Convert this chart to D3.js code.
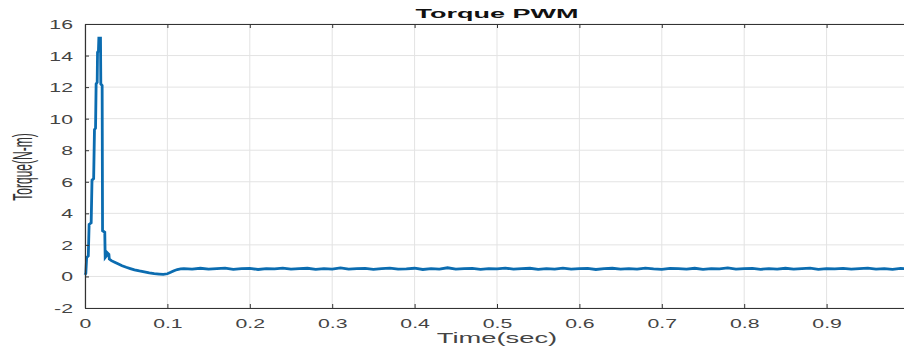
<!DOCTYPE html>
<html>
<head>
<meta charset="utf-8">
<script src="https://cdn.jsdelivr.net/npm/d3@7"></script>
<style>
  html, body { margin: 0; padding: 0; background: #fff; }
  svg { display: block; }
  text { font-family: "Liberation Sans", Arial, Helvetica, sans-serif; }
</style>
</head>
<body>
<svg id="chart" width="904" height="350"></svg>
<script>
// ---- Data ----
const chartTitle = "Torque PWM";
const xLabel = "Time(sec)";
const yLabel = "Torque(N-m)";
const xTickValues = [0, 0.1, 0.2, 0.3, 0.4, 0.5, 0.6, 0.7, 0.8, 0.9];
const yTickValues = [-2, 0, 2, 4, 6, 8, 10, 12, 14, 16];

// start-up transient (step-like rise, spike and decay)
const startTime = [0, 0.001, 0.002, 0.004, 0.005, 0.0075, 0.0085, 0.0105, 0.0115, 0.0128,
  0.0135, 0.0148, 0.0152, 0.0163, 0.0168, 0.0188, 0.0192, 0.0208, 0.0213, 0.0240,
  0.0245, 0.026, 0.027, 0.029, 0.0295, 0.032, 0.036, 0.04, 0.045, 0.05,
  0.055, 0.06, 0.066, 0.072, 0.078, 0.084, 0.09, 0.095, 0.1, 0.104,
  0.108, 0.112, 0.116];
const startTorque = [0.1, 0.2, 1.2, 1.3, 3.3, 3.4, 6.1, 6.2, 9.3, 9.4,
  12.2, 12.3, 14.2, 14.3, 15.1, 15.1, 12.2, 12.1, 2.9, 2.8,
  1.2, 1.3, 1.5, 1.4, 1.1, 1.0, 0.9, 0.8, 0.68, 0.58,
  0.5, 0.42, 0.35, 0.29, 0.23, 0.18, 0.15, 0.13, 0.17, 0.26,
  0.36, 0.44, 0.48];

// steady state (ripple around ~0.5 N-m)
const steadyTime = [0.12, 0.13, 0.14, 0.15, 0.16, 0.17, 0.18, 0.19, 0.20, 0.21,
  0.22, 0.23, 0.24, 0.25, 0.26, 0.27, 0.28, 0.29, 0.30, 0.31,
  0.32, 0.33, 0.34, 0.35, 0.36, 0.37, 0.38, 0.39, 0.40, 0.41,
  0.42, 0.43, 0.44, 0.45, 0.46, 0.47, 0.48, 0.49, 0.50, 0.51,
  0.52, 0.53, 0.54, 0.55, 0.56, 0.57, 0.58, 0.59, 0.60, 0.61,
  0.62, 0.63, 0.64, 0.65, 0.66, 0.67, 0.68, 0.69, 0.70, 0.71,
  0.72, 0.73, 0.74, 0.75, 0.76, 0.77, 0.78, 0.79, 0.80, 0.81,
  0.82, 0.83, 0.84, 0.85, 0.86, 0.87, 0.88, 0.89, 0.90, 0.91,
  0.92, 0.93, 0.94, 0.95, 0.96, 0.97, 0.98, 0.99, 1.00];
const steadyTorque = [0.50, 0.47, 0.52, 0.46, 0.50, 0.53, 0.45, 0.49, 0.51, 0.44,
  0.50, 0.48, 0.53, 0.46, 0.49, 0.52, 0.45, 0.50, 0.47, 0.54,
  0.46, 0.49, 0.51, 0.45, 0.50, 0.53, 0.47, 0.48, 0.52, 0.44,
  0.50, 0.47, 0.55, 0.46, 0.49, 0.51, 0.45, 0.50, 0.48, 0.53,
  0.46, 0.50, 0.52, 0.45, 0.49, 0.47, 0.53, 0.46, 0.50, 0.51,
  0.44, 0.49, 0.52, 0.47, 0.50, 0.46, 0.53, 0.48, 0.45, 0.51,
  0.49, 0.47, 0.52, 0.45, 0.50, 0.48, 0.54, 0.46, 0.49, 0.51,
  0.45, 0.50, 0.47, 0.52, 0.46, 0.49, 0.53, 0.45, 0.50, 0.48,
  0.51, 0.46, 0.50, 0.53, 0.47, 0.49, 0.45, 0.51, 0.48];

// ---- Layout ----
const plotLeft = 85, plotRight = 909, plotTop = 24, plotBottom = 308;
const sx = 1.7; // horizontal stretch of the original picture's text

const svg = d3.select("#chart");
const x = d3.scaleLinear().domain([0, 1]).range([plotLeft, plotRight]);
const y = d3.scaleLinear().domain([-2, 16]).range([plotBottom, plotTop]);

// grid
const grid = svg.append("g");
grid.selectAll("line.vg").data(xTickValues.concat([1])).enter().append("line")
  .attr("x1", d => x(d)).attr("x2", d => x(d)).attr("y1", plotTop).attr("y2", plotBottom)
  .attr("stroke", "#e3e3e3").attr("stroke-width", 1);
grid.selectAll("line.hg").data(yTickValues).enter().append("line")
  .attr("x1", plotLeft).attr("x2", plotRight).attr("y1", d => y(d)).attr("y2", d => y(d))
  .attr("stroke", "#e3e3e3").attr("stroke-width", 1);

// data line
const pts = startTime.map((t, i) => [t, startTorque[i]])
  .concat(steadyTime.map((t, i) => [t, steadyTorque[i]]));
const line = d3.line().x(d => x(d[0])).y(d => y(d[1]));
svg.append("path").datum(pts)
  .attr("d", line)
  .attr("fill", "none")
  .attr("stroke", "#0b6cb0")
  .attr("stroke-width", 2.8)
  .attr("stroke-linejoin", "miter");

// axes
function styleAxis(g) {
  g.select(".domain").attr("stroke", "#333").attr("stroke-width", 1.2);
  g.selectAll(".tick line").attr("stroke", "#333");
}
const xAxis = svg.append("g").attr("transform", `translate(0,${plotBottom})`)
  .call(d3.axisBottom(x).tickValues(xTickValues).tickSize(-4).tickSizeOuter(0).tickPadding(0)
    .tickFormat(d => d === 0 ? "0" : d3.format(".1f")(d)));
styleAxis(xAxis);
xAxis.selectAll(".tick text")
  .attr("font-size", "12.5px").attr("fill", "#444")
  .attr("y", 20).attr("dy", 0)
  .attr("transform", `scale(${sx},1)`);

const xAxisTop = svg.append("g").attr("transform", `translate(0,${plotTop})`)
  .call(d3.axisTop(x).tickValues(xTickValues).tickSize(-4).tickSizeOuter(0).tickFormat(""));
styleAxis(xAxisTop);

const yAxis = svg.append("g").attr("transform", `translate(${plotLeft},0)`)
  .call(d3.axisLeft(y).tickValues(yTickValues).tickSize(-4).tickSizeOuter(0).tickPadding(0)
    .tickFormat(d => String(d)));
styleAxis(yAxis);
yAxis.selectAll(".tick text")
  .attr("font-size", "12.5px").attr("fill", "#444")
  .attr("x", -12 / sx).attr("dy", "0.36em")
  .attr("transform", `scale(${sx},1)`);

// title
svg.append("text")
  .attr("transform", `translate(${(plotLeft + plotRight) / 2},18) scale(2.0,1)`)
  .attr("text-anchor", "middle")
  .attr("font-size", "13.5px").attr("font-weight", "bold").attr("fill", "#111")
  .text(chartTitle);

// x label
svg.append("text")
  .attr("transform", `translate(${(plotLeft + plotRight) / 2},343) scale(1.95,1)`)
  .attr("text-anchor", "middle")
  .attr("font-size", "14px").attr("fill", "#444")
  .text(xLabel);

// y label
svg.append("text")
  .attr("transform", `translate(32,167) scale(2.3,1) rotate(-90)`)
  .attr("text-anchor", "middle")
  .attr("font-size", "12px").attr("fill", "#333")
  .text(yLabel);
</script>
</body>
</html>
